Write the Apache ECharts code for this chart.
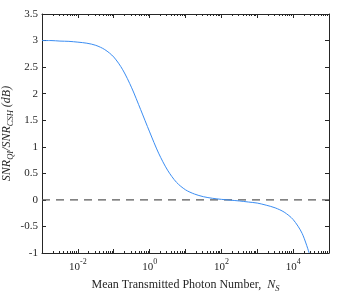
<!DOCTYPE html>
<html><head><meta charset="utf-8">
<script src="https://cdn.jsdelivr.net/npm/echarts@6/dist/echarts.min.js"></script>
<style>html,body{margin:0;padding:0;background:#fff}#c{width:343px;height:293px}</style>
</head><body><div id="c"></div>
<script>
// Mean transmitted photon number N_S (quarter-decade samples)
var photonNumber = [0.001, 0.00178, 0.00316, 0.00562, 0.01, 0.0178, 0.0316, 0.0562, 0.1, 0.178, 0.316, 0.562, 1, 1.78, 3.16, 5.62, 10, 17.8, 31.6, 56.2, 100, 178, 316, 562, 1000, 1780, 3160, 5620, 10000, 17800, 28000];
// SNR_QI / SNR_CSH in dB
var snrRatio = [3.00, 3.00, 2.99, 2.985, 2.97, 2.95, 2.91, 2.83, 2.69, 2.45, 2.11, 1.70, 1.28, 0.88, 0.56, 0.33, 0.19, 0.11, 0.06, 0.03, 0.01, -0.005, -0.02, -0.04, -0.06, -0.10, -0.15, -0.23, -0.37, -0.63, -1.0];
var refX = [0.001, 100000];
var refY = [0, 0];
var yTicks = [-1, -0.5, 0, 0.5, 1, 1.5, 2, 2.5, 3, 3.5];
var xLabelExponents = [-2, 0, 2, 4];

var FONT = 'Liberation Serif';
var chart = echarts.init(document.getElementById('c'), null, {renderer: 'canvas'});

function pairs(xs, ys) { return xs.map(function (x, i) { return [x, ys[i]]; }); }

function common() {
  return {
    axisLine: {show: true, onZero: false, lineStyle: {color: '#262626', width: 1}},
    axisTick: {show: true, inside: true, length: 4, lineStyle: {color: '#262626', width: 1}},
    splitLine: {show: false}
  };
}

chart.setOption({
  animation: false,
  backgroundColor: '#fff',
  grid: {left: 42, top: 14, right: 14, bottom: 40, containLabel: false, outerBoundsMode: 'none'},
  xAxis: [
    Object.assign(common(), {
      type: 'log', logBase: 10, min: 0.001, max: 100000, interval: 1,
      name: '{t|Mean Transmitted Photon Number,  }{i|N}{sub|S}',
      nameLocation: 'middle', nameGap: 24, nameMoveOverlap: false,
      nameTextStyle: {
        fontFamily: FONT, fontSize: 12, color: '#262626',
        rich: {
          t: {fontFamily: FONT, fontSize: 12, color: '#262626', lineHeight: 16, verticalAlign: 'middle'},
          i: {fontFamily: FONT, fontSize: 12, fontStyle: 'italic', color: '#262626', lineHeight: 16, verticalAlign: 'middle'},
          sub: {fontFamily: FONT, fontSize: 8.5, fontStyle: 'italic', color: '#262626', lineHeight: 16, verticalAlign: 'bottom'}
        }
      },
      minorTick: {show: true, splitNumber: 9, length: 2, lineStyle: {color: '#262626'}},
      axisLabel: {
        margin: 5,
        formatter: function (v) {
          var e = Math.round(Math.log10(v));
          if (xLabelExponents.indexOf(e) < 0) return '';
          return '{b|10}{s|' + e + '}';
        },
        rich: {
          b: {fontFamily: FONT, fontSize: 11, color: '#262626', lineHeight: 15, verticalAlign: 'bottom'},
          s: {fontFamily: FONT, fontSize: 8, color: '#262626', lineHeight: 15, verticalAlign: 'top'}
        }
      }
    }),
    Object.assign(common(), {
      type: 'log', logBase: 10, min: 0.001, max: 100000, interval: 1, position: 'top',
      minorTick: {show: true, splitNumber: 9, length: 2, lineStyle: {color: '#262626'}},
      axisLabel: {show: false}
    })
  ],
  yAxis: [
    Object.assign(common(), {
      type: 'value', min: -1, max: 3.5, interval: 0.5,
      name: '{i|SNR}{sub|QI}{i|/SNR}{sub|CSH}{i| (dB)}',
      nameLocation: 'middle', nameGap: 27, nameRotate: 90, nameMoveOverlap: false,
      nameTextStyle: {
        fontFamily: FONT, fontSize: 12, color: '#262626',
        rich: {
          i: {fontFamily: FONT, fontSize: 12, fontStyle: 'italic', color: '#262626', lineHeight: 16, verticalAlign: 'middle'},
          sub: {fontFamily: FONT, fontSize: 8.5, fontStyle: 'italic', color: '#262626', lineHeight: 16, verticalAlign: 'bottom'}
        }
      },
      axisLabel: {
        fontFamily: FONT, fontSize: 11, color: '#262626', margin: 4,
        formatter: function (v) { return yTicks.indexOf(v) >= 0 ? String(v) : ''; }
      }
    }),
    Object.assign(common(), {
      type: 'value', min: -1, max: 3.5, interval: 0.5, position: 'right',
      axisLabel: {show: false}
    })
  ],
  series: [
    {
      type: 'line', data: pairs(refX, refY), xAxisIndex: 0, yAxisIndex: 0,
      symbol: 'none', silent: true, z: 1,
      lineStyle: {color: '#595959', width: 1.3, type: [8, 6]}
    },
    {
      type: 'line', data: pairs(photonNumber, snrRatio), xAxisIndex: 0, yAxisIndex: 0,
      symbol: 'none', smooth: 0.3, clip: true, z: 2,
      lineStyle: {color: '#3b8df2', width: 1}
    }
  ]
});
</script></body></html>
